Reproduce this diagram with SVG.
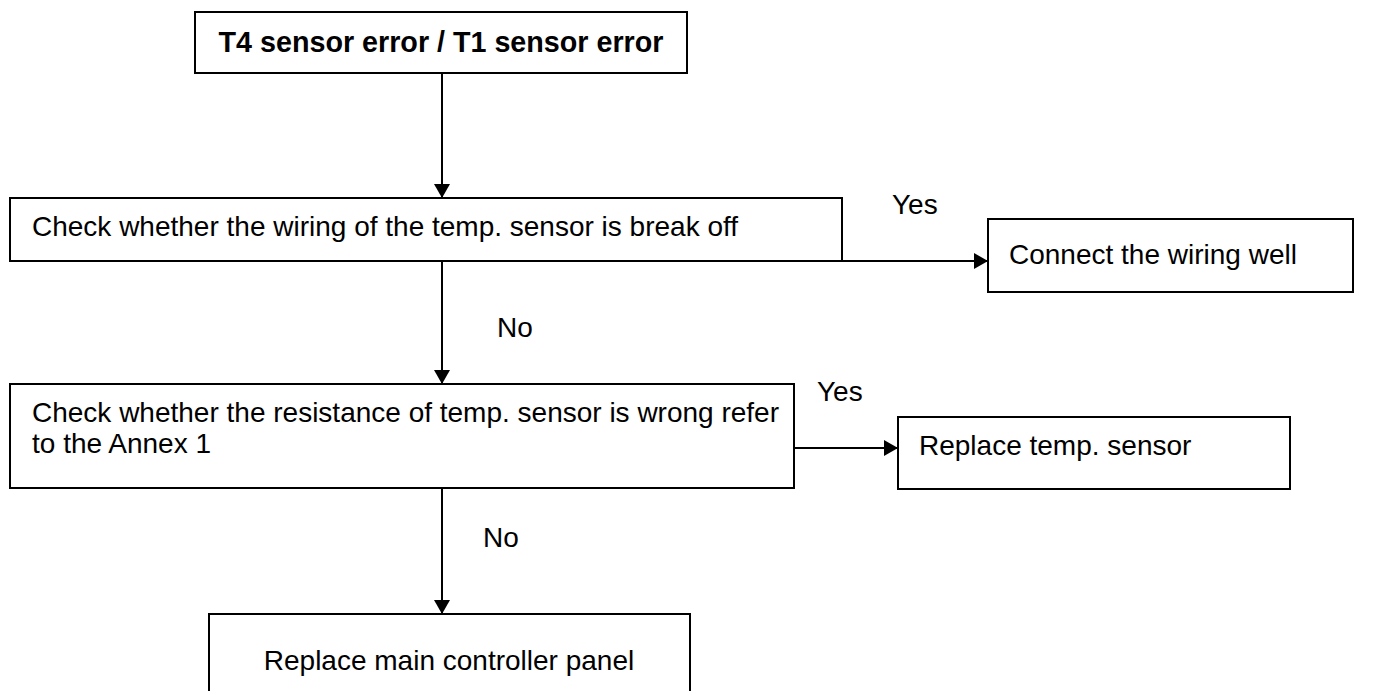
<svg xmlns="http://www.w3.org/2000/svg" width="1383" height="691" viewBox="0 0 1383 691">
<style>
.box{fill:#fff;stroke:#000;stroke-width:2}
.t{font-family:"Liberation Sans",Arial,sans-serif;font-size:28px;fill:#000}
.b{font-weight:bold;font-size:28.7px}
.c{stroke:#000;stroke-width:2;fill:none}
</style>
<defs>
<marker id="ah" viewBox="0 0 14 16" refX="14" refY="8" markerWidth="14" markerHeight="16" markerUnits="userSpaceOnUse" orient="auto">
<path d="M0,0 L14,8 L0,16 z" fill="#000"/>
</marker>
</defs>
<rect width="1383" height="691" fill="#fff"/>
<g id="connectors">
<line class="c" x1="442" y1="73" x2="442" y2="198" marker-end="url(#ah)"/>
<line class="c" x1="842" y1="261" x2="988" y2="261" marker-end="url(#ah)"/>
<line class="c" x1="442" y1="261" x2="442" y2="384" marker-end="url(#ah)"/>
<line class="c" x1="794" y1="448" x2="898" y2="448" marker-end="url(#ah)"/>
<line class="c" x1="442" y1="488" x2="442" y2="614" marker-end="url(#ah)"/>
<text class="t" x="892" y="214">Yes</text>
<text class="t" x="497" y="337">No</text>
<text class="t" x="817" y="401">Yes</text>
<text class="t" x="483" y="547">No</text>
</g>
<g id="start">
<rect class="box" x="195" y="12" width="492" height="61"/>
<text class="t b" x="441" y="52" text-anchor="middle">T4 sensor error / T1 sensor error</text>
</g>
<g id="check-wiring">
<rect class="box" x="10" y="198" width="832" height="63"/>
<text class="t" x="32" y="236">Check whether the wiring of the temp. sensor is break off</text>
</g>
<g id="connect-wiring">
<rect class="box" x="988" y="219" width="365" height="73"/>
<text class="t" x="1009" y="264">Connect the wiring well</text>
</g>
<g id="check-resistance">
<rect class="box" x="10" y="384" width="784" height="104"/>
<text class="t" x="32" y="422">Check whether the resistance of temp. sensor is wrong refer</text>
<text class="t" x="32" y="453">to the Annex 1</text>
</g>
<g id="replace-sensor">
<rect class="box" x="898" y="417" width="392" height="72"/>
<text class="t" x="919" y="455">Replace temp. sensor</text>
</g>
<g id="replace-panel">
<rect class="box" x="209" y="614" width="481" height="90"/>
<text class="t" x="449" y="670" text-anchor="middle">Replace main controller panel</text>
</g>
</svg>
